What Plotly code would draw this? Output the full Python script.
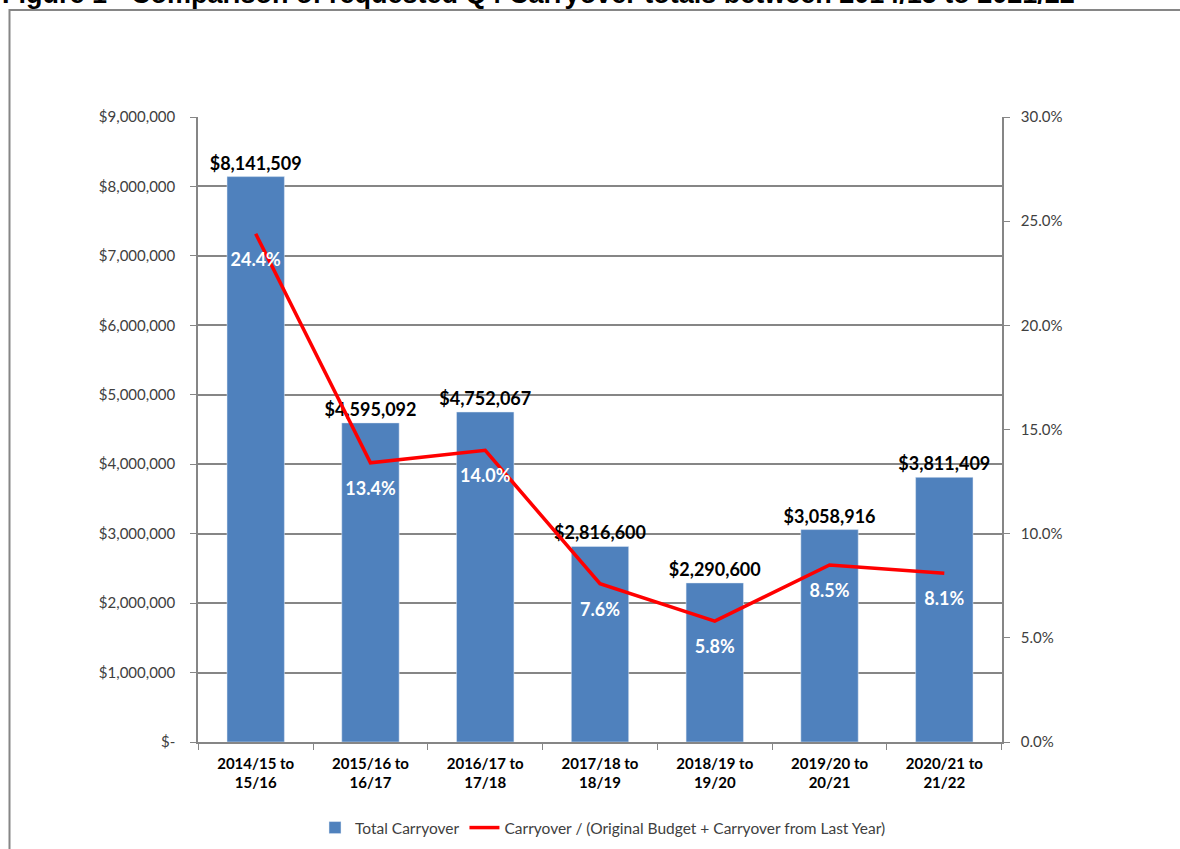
import plotly.graph_objects as go

categories = ["2014/15 to<br>15/16", "2015/16 to<br>16/17", "2016/17 to<br>17/18", "2017/18 to<br>18/19",
              "2018/19 to<br>19/20", "2019/20 to<br>20/21", "2020/21 to<br>21/22"]
total_carryover = [8141509, 4595092, 4752067, 2816600, 2290600, 3058916, 3811409]
carryover_ratio = [0.244, 0.134, 0.140, 0.076, 0.058, 0.085, 0.081]

left_tickvals = [0, 1e6, 2e6, 3e6, 4e6, 5e6, 6e6, 7e6, 8e6, 9e6]
left_ticktext = ["$-"] + [f"${int(v):,}" for v in left_tickvals[1:]]

FONT = "Lato"
GRAY = "#868686"

fig = go.Figure()
fig.add_trace(go.Bar(
    x=categories, y=total_carryover, name="Total Carryover",
    marker=dict(color="#4F81BD"), width=0.5,
    text=[f"${v:,.0f}" for v in total_carryover], textposition="outside",
    constraintext="none",
    textfont=dict(family=FONT, size=18, color="black", weight="bold"),
    cliponaxis=False,
))
fig.add_trace(go.Scatter(
    x=categories, y=carryover_ratio, yaxis="y2",
    name="Carryover / (Original Budget + Carryover from Last Year)",
    mode="lines+markers+text", line=dict(color="#FF0000", width=3.5),
    marker=dict(size=28, color="rgba(0,0,0,0)"),
    text=[f"{v*100:.1f}%" for v in carryover_ratio], textposition="bottom center",
    textfont=dict(family=FONT, size=18, color="white", weight="bold"),
    cliponaxis=False,
))

W, H = 1180, 849
ml, mr, mt, mb = 198, 178, 117, 107
pw, ph = W - ml - mr, H - mt - mb

def px_x(p):
    return (p - ml) / pw

def px_y(p):
    return (H - mb - p) / ph

fig.update_layout(
    width=W, height=H, margin=dict(l=ml, r=mr, t=mt, b=mb, autoexpand=False),
    paper_bgcolor="white", plot_bgcolor="white",
    font=dict(family=FONT, size=15, color="#404040"),
    bargap=0.5, showlegend=True,
    legend=dict(orientation="h", x=px_x(603), xanchor="center", y=px_y(828), yanchor="middle",
                font=dict(family=FONT, size=15.5, color="#404040"), traceorder="normal"),
    xaxis=dict(showline=True, linecolor=GRAY, linewidth=1.5, ticks="outside", tickcolor=GRAY,
               ticklen=6, tickson="boundaries", ticklabelstandoff=7,
               tickfont=dict(family=FONT, size=15, color="black", weight="bold")),
    yaxis=dict(range=[0, 9e6], tickvals=left_tickvals, ticktext=left_ticktext,
               showline=True, linecolor=GRAY, linewidth=1.5, ticks="outside", tickcolor=GRAY, ticklen=6,
               showgrid=True, gridcolor=GRAY, gridwidth=1.5, zeroline=False, ticklabelstandoff=12,
               tickfont=dict(family=FONT, size=15, color="#404040")),
    yaxis2=dict(range=[0, 0.30], overlaying="y", side="right", tickvals=[0, .05, .10, .15, .20, .25, .30],
                tickformat=".1%", showline=True, linecolor=GRAY, linewidth=1.5, ticks="outside",
                tickcolor=GRAY, ticklen=6, showgrid=False, zeroline=False, ticklabelstandoff=8,
                tickfont=dict(family=FONT, size=15, color="#404040")),
    shapes=[dict(type="rect", xref="paper", yref="paper", x0=px_x(9.5), x1=1.5, y0=-0.5, y1=px_y(10),
                 line=dict(color=GRAY, width=2), fillcolor="rgba(0,0,0,0)", layer="below")],
    annotations=[dict(text="Figure 1 - Comparison of requested Q4 Carryover totals between 2014/15 to 2021/22",
                      xref="paper", yref="paper", x=px_x(0), y=px_y(11), xanchor="left", yanchor="bottom",
                      showarrow=False,
                      font=dict(family="Liberation Sans", size=27, color="black", weight="bold"))],
)

fig.write_html("out.html")
